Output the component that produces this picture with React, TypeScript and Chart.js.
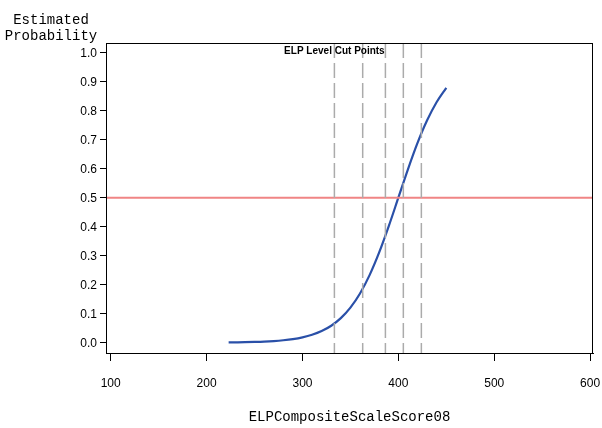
import React, { useEffect, useRef } from "react";
import { Chart, registerables } from "chart.js";

Chart.register(...registerables);

const scoreX = [223, 230, 240, 250, 260, 270, 280, 290, 300, 310, 320, 330, 340, 350, 360, 370, 380, 390, 400, 410, 420, 430, 440, 450];
const probY = [0.0009, 0.0012, 0.0017, 0.0026, 0.0038, 0.0057, 0.0085, 0.0125, 0.0185, 0.0273, 0.0401, 0.0584, 0.0846, 0.1208, 0.1697, 0.2331, 0.3113, 0.402, 0.5, 0.598, 0.689, 0.767, 0.83, 0.879];
const cutPoints = [333.3, 362.8, 386.5, 405.2, 424];
const refProb = 0.5;
const xTicks = [100, 200, 300, 400, 500, 600];
const yTicks = [0, 0.1, 0.2, 0.3, 0.4, 0.5, 0.6, 0.7, 0.8, 0.9, 1.0];
const xMin = 95.1, xMax = 603;
const yMin = -0.0355, yMax = 1.0334;
const yTitleLines = ["Estimated", "Probability"];
const xTitle = "ELPCompositeScaleScore08";
const cutLabel = "ELP Level Cut Points";

export default function App() {
  const ref = useRef<HTMLCanvasElement>(null);
  useEffect(() => {
    const frame = {
      id: "frame",
      afterDraw(chart: any) {
        const { ctx, chartArea: a } = chart;
        ctx.save();
        ctx.strokeStyle = "#000";
        ctx.lineWidth = 1;
        ctx.strokeRect(a.left + 0.5, a.top + 0.5, a.right - a.left - 1, a.bottom - a.top);
        ctx.fillStyle = "#000";
        ctx.font = "14px 'Liberation Mono'";
        ctx.textAlign = "center";
        ctx.textBaseline = "middle";
        ctx.fillText(yTitleLines[0], 51, 20);
        ctx.fillText(yTitleLines[1], 51, 36);
        ctx.font = "bold 10px 'Liberation Sans'";
        const xs = chart.scales.x;
        ctx.fillText(cutLabel, xs.getPixelForValue(cutPoints[0]), a.top + 8);
        ctx.restore();
      },
    };
    const cutSets = cutPoints.map((c) => ({
      data: [{ x: c, y: yMax }, { x: c, y: yMin }],
      borderColor: "#ababab",
      borderWidth: 1.5,
      borderDash: [15, 5],
      pointRadius: 0,
    }));
    const chart = new Chart(ref.current!, {
      type: "line",
      data: {
        datasets: [
          ...cutSets,
          {
            data: [{ x: xMin, y: refProb }, { x: xMax, y: refProb }],
            borderColor: "#f08585",
            borderWidth: 2,
            pointRadius: 0,
          },
          {
            data: scoreX.map((x, i) => ({ x, y: probY[i] })),
            borderColor: "#2a50a8",
            borderWidth: 2.2,
            pointRadius: 0,
            cubicInterpolationMode: "monotone",
          },
        ] as any,
      },
      plugins: [frame],
      options: {
        animation: false,
        responsive: false,
        layout: { padding: { top: 43, right: 9, left: 0, bottom: 0 } },
        plugins: { legend: { display: false }, tooltip: { enabled: false } },
        scales: {
          x: {
            type: "linear",
            min: xMin,
            max: xMax,
            afterBuildTicks: (s: any) => { s.ticks = xTicks.map((v) => ({ value: v })); },
            afterFit: (s: any) => { s.height = 75; s.paddingLeft = 0; s.paddingRight = 0; },
            ticks: { color: "#000", font: { family: "'Liberation Sans'", size: 12 }, padding: 15, maxRotation: 0, autoSkip: false, callback: (v: any) => String(v) },
            grid: { drawOnChartArea: false, tickLength: 8, color: "#000" },
            border: { display: true, color: "#000" },
            title: { display: true, text: xTitle, color: "#000", font: { family: "'Liberation Mono'", size: 14 }, padding: { top: 18, bottom: 2 } },
          },
          y: {
            type: "linear",
            min: yMin,
            max: yMax,
            afterBuildTicks: (s: any) => { s.ticks = yTicks.map((v) => ({ value: v })); },
            afterFit: (s: any) => { s.width = 106; s.paddingTop = 0; s.paddingBottom = 0; },
            ticks: {
              color: "#000",
              autoSkip: false,
              font: { family: "'Liberation Sans'", size: 12 },
              padding: 3,
              labelOffset: 1,
              callback: (v: any) => Number(v).toFixed(1),
            },
            grid: { drawOnChartArea: false, tickLength: 6, color: "#000" },
            border: { display: true, color: "#000" },
          },
        },
      } as any,
    });
    return () => chart.destroy();
  }, []);
  return (
    <div style={{ position: "fixed", left: 0, top: 0, width: 602, height: 428, background: "#fff" }}>
      <canvas ref={ref} width={602} height={428} />
    </div>
  );
}
